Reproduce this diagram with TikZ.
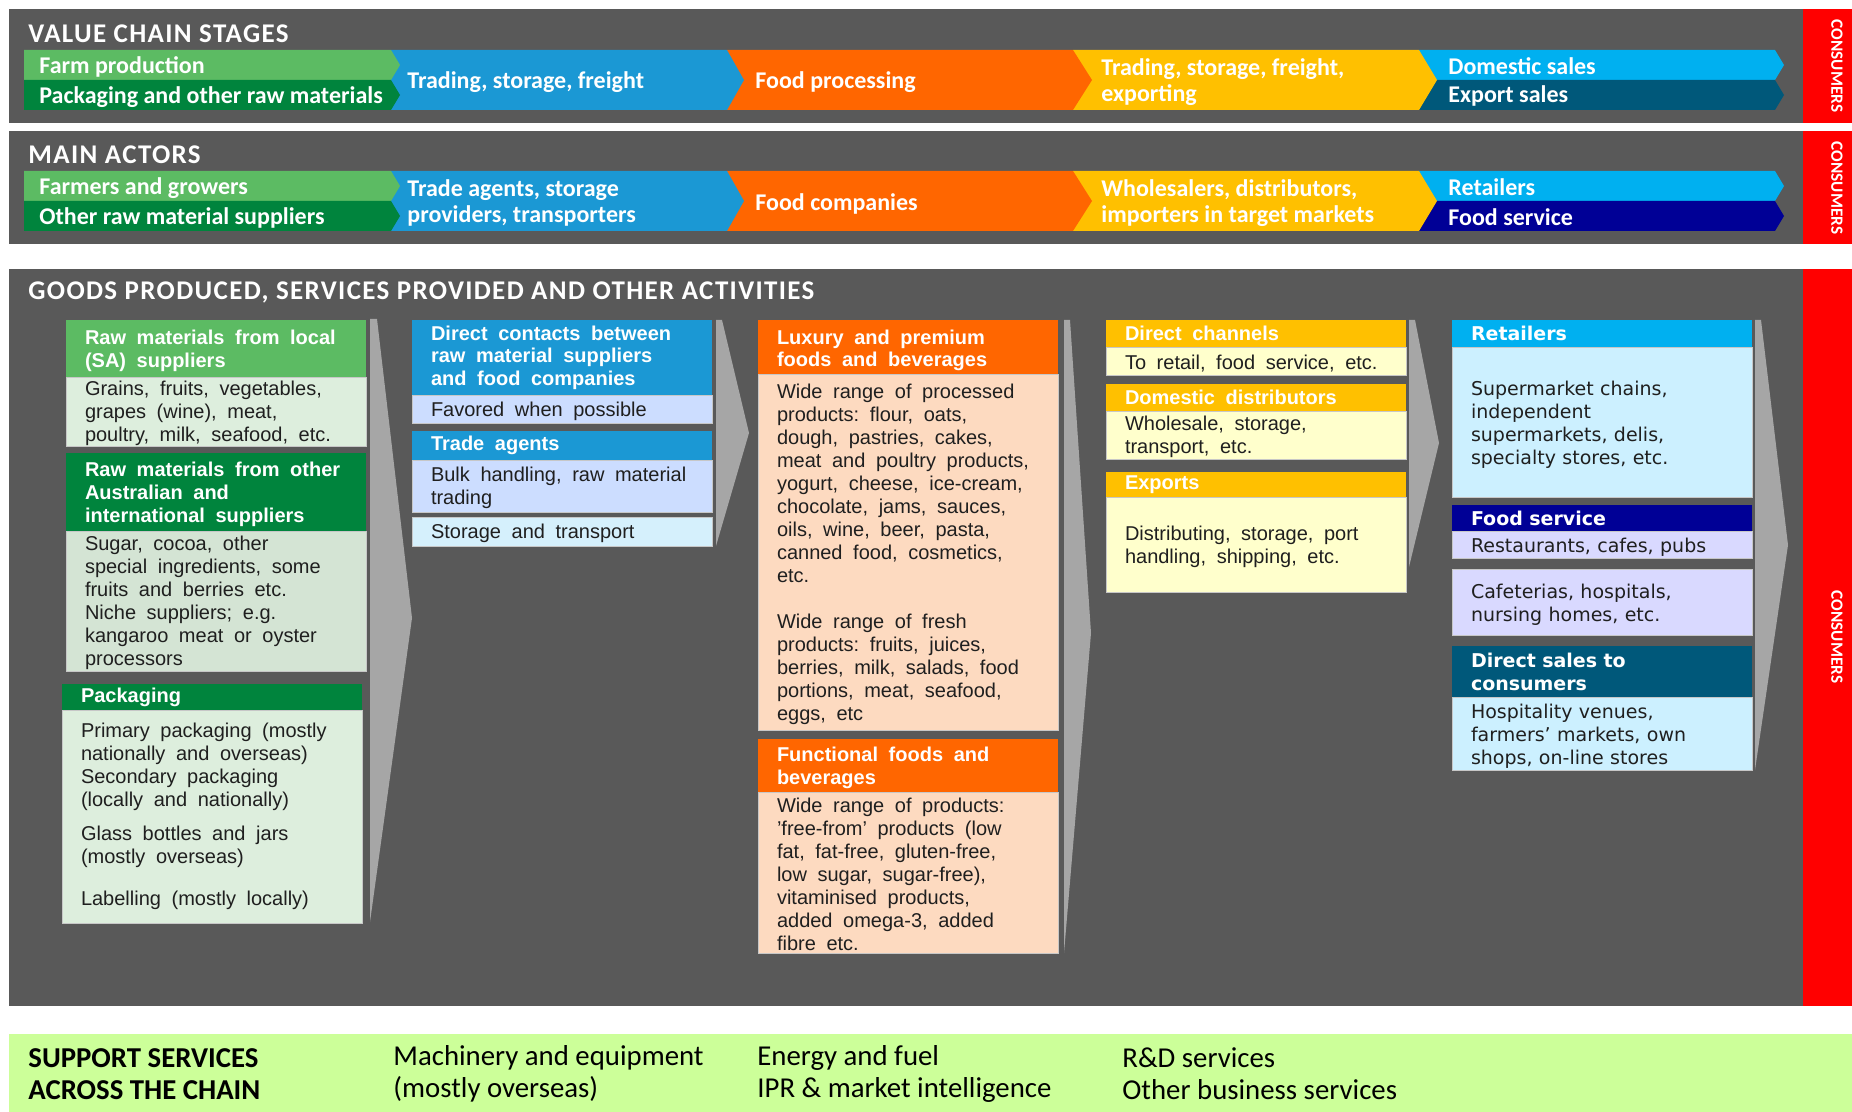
\documentclass[tikz,border=0pt]{standalone}
\usepackage{fontspec}
\setmainfont{Liberation Sans}
\newfontfamily\calibri{Carlito}
\newfontfamily\verdana{DejaVu Sans}
\usetikzlibrary{positioning}
\definecolor{cPanel}{RGB}{89,89,89}
\definecolor{cRed}{RGB}{255,0,0}
\definecolor{cLGreen}{RGB}{92,187,99}
\definecolor{cDGreen}{RGB}{0,132,61}
\definecolor{cBlue}{RGB}{27,152,212}
\definecolor{cOrange}{RGB}{255,102,0}
\definecolor{cYellow}{RGB}{255,192,0}
\definecolor{cSky}{RGB}{0,176,240}
\definecolor{cTeal}{RGB}{0,88,122}
\definecolor{cNavy}{RGB}{0,0,150}
\definecolor{cArrow}{RGB}{166,166,166}
\definecolor{cSupport}{RGB}{204,255,153}
\definecolor{bGreen}{RGB}{221,238,221}
\definecolor{bGreenB}{RGB}{212,228,212}
\definecolor{bLav}{RGB}{204,221,255}
\definecolor{bCyan}{RGB}{213,240,252}
\definecolor{bPeach}{RGB}{253,218,192}
\definecolor{bYellow}{RGB}{255,255,204}
\definecolor{bSky}{RGB}{204,240,255}
\definecolor{bLilac}{RGB}{217,217,255}
\tikzset{
	panelhead/.style={anchor=west, inner sep=0pt, text=white, font=\calibri\bfseries\fontsize{13.5}{16}\selectfont\addfontfeatures{LetterSpace=5}},
	chevtext/.style ={anchor=west, inner sep=0pt, align=left, text=white, font=\calibri\bfseries\fontsize{12}{13}\selectfont},
	consumers/.style={rotate=-90, inner sep=0pt, text=white, font=\calibri\bfseries\fontsize{8.6}{10}\selectfont},
	hdr/.style      ={rectangle, anchor=north west, text width=131pt, inner xsep=9.5pt, inner ysep=0pt, outer sep=0pt, align=left, text=white, font=\bfseries\fontsize{10}{11.3}\selectfont, execute at begin node={\spaceskip=5.3pt\xspaceskip=5.3pt\relax}},
	boxtext/.style  ={rectangle, text width=131pt, inner xsep=9.5pt, inner ysep=0pt, outer sep=0pt, align=left, draw=black!22, line width=0.4pt, text=black!88, font=\fontsize{10}{11.5}\selectfont, execute at begin node={\spaceskip=5.3pt\xspaceskip=5.3pt\relax}},
	body/.style     ={boxtext, text height=9.5pt},
	vhdr/.style     ={hdr, font=\verdana\bfseries\fontsize{9.5}{11.5}\selectfont, execute at begin node={\spaceskip=3.2pt\xspaceskip=3.2pt\relax}},
	vbody/.style    ={body, font=\verdana\fontsize{9.5}{11.5}\selectfont, execute at begin node={\spaceskip=3.2pt\xspaceskip=3.2pt\relax}},
	flowarrow/.style={fill=cArrow},
	support/.style  ={anchor=west, inner sep=0pt, align=left, text=black, font=\calibri\fontsize{14.4}{16}\selectfont},
}
\newcommand{\chev}[6]{%
	\fill[#1] (#2,#5) -- (#3,#5) -- ({#3+#4},{(#5+#6)/2}) -- (#3,#6) -- (#2,#6) -- cycle;}

\begin{document}
\begin{tikzpicture}[x=0.5pt, y=-0.5pt]
	\useasboundingbox (0,0) rectangle (1852,1112);
	% panels
	\fill[cPanel] (9,9) rectangle (1803,123);
	\fill[cPanel] (9,131) rectangle (1803,244);
	\fill[cPanel] (9,269) rectangle (1803,1006);
	\fill[cRed] (1803,9) rectangle (1852,123);
	\fill[cRed] (1803,131) rectangle (1852,244);
	\fill[cRed] (1803,269) rectangle (1852,1006);
	\fill[cSupport] (9,1034) rectangle (1852,1112);
	\node[panelhead] (hstages) at (28,34) {VALUE CHAIN STAGES};
	\node[panelhead] (hactors) at (28,155) {MAIN ACTORS};
	\node[panelhead] (hgoods) at (28,292) {GOODS PRODUCED, SERVICES PROVIDED AND OTHER ACTIVITIES};
	\node[consumers] (cons1) at (1837,66) {CONSUMERS};
	\node[consumers] (cons2) at (1837,188) {CONSUMERS};
	\node[consumers] (cons3) at (1837,637) {CONSUMERS};
	% value chain stages
	\chev{cSky}{1419}{1775}{9}{50}{80}
	\chev{cTeal}{1419}{1775}{9}{80}{110}
	\chev{cYellow}{1073}{1419}{18}{50}{110}
	\chev{cOrange}{727}{1073}{19}{50}{110}
	\chev{cBlue}{391}{727}{17}{50}{110}
	\chev{cLGreen}{24}{391}{9}{50}{80}
	\chev{cDGreen}{24}{391}{9}{80}{110}
	\node[chevtext] (vfarm) at (39,67) {Farm production};
	\node[chevtext] (vpack) at (39,97) {Packaging and other raw materials};
	\node[chevtext] (vtrade) at (407,82) {Trading, storage, freight};
	\node[chevtext] (vproc) at (755,82) {Food processing};
	\node[chevtext] (vexport) at (1101,82) {Trading, storage, freight,\\exporting};
	\node[chevtext] (vdom) at (1448,66) {Domestic sales};
	\node[chevtext] (vexp) at (1448,96) {Export sales};
	% main actors
	\begin{scope}[shift={(0,121)}]
		\chev{cSky}{1419}{1775}{9}{50}{80}
		\chev{cNavy}{1419}{1775}{9}{80}{110}
		\chev{cYellow}{1073}{1419}{18}{50}{110}
		\chev{cOrange}{727}{1073}{19}{50}{110}
		\chev{cBlue}{391}{727}{17}{50}{110}
		\chev{cLGreen}{24}{391}{9}{50}{80}
		\chev{cDGreen}{24}{391}{9}{80}{110}
	\end{scope}
	\node[chevtext] (afarm) at (39,188) {Farmers and growers};
	\node[chevtext] (aother) at (39,218) {Other raw material suppliers};
	\node[chevtext] (aagents) at (407,203) {Trade agents, storage\\providers, transporters};
	\node[chevtext] (acomp) at (755,204) {Food companies};
	\node[chevtext] (awhole) at (1101,203) {Wholesalers, distributors,\\importers in target markets};
	\node[chevtext] (aret) at (1448,187) {Retailers};
	\node[chevtext] (afood) at (1448,217) {Food service};
	% flow arrows between columns
	\fill[flowarrow] (370,319) -- (377,319) -- (412,618) -- (370,922) -- cycle;
	\fill[flowarrow] (716,320) -- (722,320) -- (749,433) -- (716,546) -- cycle;
	\fill[flowarrow] (1064,320) -- (1070,320) -- (1091,633) -- (1064,953) -- cycle;
	\fill[flowarrow] (1409,320) -- (1415,320) -- (1439,443) -- (1409,567) -- cycle;
	\fill[flowarrow] (1755,320) -- (1761,320) -- (1788,545) -- (1755,770) -- cycle;
	% column 1: raw materials
	\node[hdr, fill=cLGreen, minimum height=28.5pt, text height=9.5pt] (rawloc) at (66,320) {Raw materials from local\\(SA) suppliers};
	\node[body, fill=bGreen, minimum height=34pt, below=0pt of rawloc] (rawlocb) {Grains, fruits, vegetables,\\grapes (wine), meat,\\poultry, milk, seafood, etc.};
	\node[hdr, fill=cDGreen, minimum height=39pt, text height=9.5pt] (rawint) at (66,453) {Raw materials from other\\Australian and\\international suppliers};
	\node[body, fill=bGreenB, minimum height=70pt, below=0pt of rawint] (rawintb) {Sugar, cocoa, other\\special ingredients, some\\fruits and berries etc.\\Niche suppliers; e.g.\\kangaroo meat or oyster\\processors};
	\node[hdr, fill=cDGreen, minimum height=13pt] (pack) at (62,684) {Packaging};
	\node[boxtext, fill=bGreen, minimum height=106.5pt, below=0pt of pack] (packb) {Primary packaging (mostly\\nationally and overseas)\\Secondary packaging\\(locally and nationally)\\[5.5pt]Glass bottles and jars\\(mostly overseas)\\[9.5pt]Labelling (mostly locally)};
	% column 2: trading
	\node[hdr, fill=cBlue, minimum height=37.5pt] (direct) at (412,320) {Direct contacts between\\raw material suppliers\\and food companies};
	\node[body, fill=bLav, minimum height=14pt, below=0pt of direct] (directb) {Favored when possible};
	\node[hdr, fill=cBlue, minimum height=14.5pt] (agents) at (412,431) {Trade agents};
	\node[body, fill=bLav, minimum height=26pt, below=0pt of agents] (agentsb) {Bulk handling, raw material\\trading};
	\node[body, fill=bCyan, minimum height=14.5pt, anchor=north west] (storage) at (412,517) {Storage and transport};
	% column 3: food processing
	\node[hdr, fill=cOrange, minimum height=27pt, text height=10.5pt] (luxury) at (758,320) {Luxury and premium\\foods and beverages};
	\node[body, fill=bPeach, minimum height=178pt, below=0pt of luxury] (luxuryb) {Wide range of processed\\products: flour, oats,\\dough, pastries, cakes,\\meat and poultry products,\\yogurt, cheese, ice-cream,\\chocolate, jams, sauces,\\oils, wine, beer, pasta,\\canned food, cosmetics,\\etc.\\[11.5pt]Wide range of fresh\\products: fruits, juices,\\berries, milk, salads, food\\portions, meat, seafood,\\eggs, etc};
	\node[hdr, fill=cOrange, minimum height=26.5pt, text height=9.5pt] (funct) at (758,739) {Functional foods and\\beverages};
	\node[body, fill=bPeach, minimum height=80.5pt, below=0pt of funct] (functb) {Wide range of products:\\’free-from’ products (low\\fat, fat-free, gluten-free,\\low sugar, sugar-free),\\vitaminised products,\\added omega-3, added\\fibre etc.};
	% column 4: trading and exporting
	\node[hdr, fill=cYellow, minimum height=13.5pt] (chan) at (1106,320) {Direct channels};
	\node[body, fill=bYellow, minimum height=14pt, below=0pt of chan] (chanb) {To retail, food service, etc.};
	\node[hdr, fill=cYellow, minimum height=13.5pt] (distr) at (1106,384) {Domestic distributors};
	\node[body, fill=bYellow, minimum height=24pt, below=0pt of distr] (distrb) {Wholesale, storage,\\transport, etc.};
	\node[hdr, fill=cYellow, minimum height=12.5pt] (exports) at (1106,472) {Exports};
	\node[body, fill=bYellow, minimum height=47.5pt, below=0pt of exports] (exportsb) {Distributing, storage, port\\handling, shipping, etc.};
	% column 5: sales
	\node[vhdr, fill=cSky, minimum height=13.5pt] (retail) at (1452,320) {Retailers};
	\node[vbody, fill=bSky, minimum height=75pt, below=0pt of retail] (retailb) {Supermarket chains,\\independent\\supermarkets, delis,\\specialty stores, etc.};
	\node[vhdr, fill=cNavy, minimum height=13pt] (foodsv) at (1452,505) {Food service};
	\node[vbody, fill=bLilac, minimum height=13.5pt, below=0pt of foodsv] (foodsvb) {Restaurants, cafes, pubs};
	\node[vbody, fill=bLilac, minimum height=33pt, anchor=north west] (cafes) at (1452,569) {Cafeterias, hospitals,\\nursing homes, etc.};
	\node[vhdr, fill=cTeal, minimum height=25.5pt] (dsales) at (1452,646) {Direct sales to\\consumers};
	\node[vbody, fill=bSky, minimum height=36.5pt, below=0pt of dsales] (dsalesb) {Hospitality venues,\\farmers’ markets, own\\shops, on-line stores};
	% support services
	\node[support, font=\calibri\bfseries\fontsize{14.4}{16}\selectfont] (supp) at (28,1074) {SUPPORT SERVICES\\ACROSS THE CHAIN};
	\node[support] (mach) at (393,1074) {Machinery and equipment\\(mostly overseas)};
	\node[support] (energy) at (757,1074) {Energy and fuel\\IPR \& market intelligence};
	\node[support] (rnd) at (1122,1074) {R\&D services\\Other business services};
\end{tikzpicture}
\end{document}
